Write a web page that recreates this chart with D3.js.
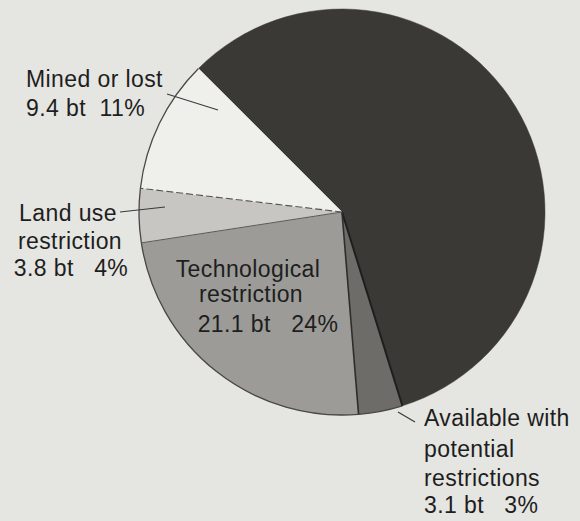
<!DOCTYPE html>
<html>
<head>
<meta charset="utf-8">
<script src="https://cdn.jsdelivr.net/npm/d3@7/dist/d3.min.js"></script>
<style>
  html, body { margin: 0; padding: 0; background: #e5e5e1; }
  svg { display: block; }
  text { font-family: "Liberation Sans", Arial, Helvetica, sans-serif; fill: #1e1e1e; }
</style>
</head>
<body>
<svg id="chart" width="580" height="521"></svg>
<script>
// ---- data (clockwise from the upper-left) ----
const categories = ["Remaining reserves", "Available with potential restrictions", "Technological restriction", "Land use restriction", "Mined or lost"];
const valuesBt = [51.0, 3.1, 21.1, 3.8, 9.4];
const percents = [null, 3, 24, 4, 11];
const fills = ["#3b3936", "#6e6c69", "#9c9b97", "#c7c6c2", "#efefec"];

const svg = d3.select("#chart");
const cx = 342, cy = 212, R = 203;
const g = svg.append("g").attr("transform", `translate(${cx},${cy})`);

const data = categories.map((c, i) => ({ name: c, value: valuesBt[i], pct: percents[i], fill: fills[i] }));
const pie = d3.pie().value(d => d.value).sort(null)
  .startAngle(-Math.PI / 4).endAngle(2 * Math.PI - Math.PI / 4);
const arcs = pie(data);
const arc = d3.arc().innerRadius(0).outerRadius(R);

g.selectAll("path.slice").data(arcs).enter().append("path")
  .attr("class", "slice")
  .attr("d", arc)
  .attr("fill", d => d.data.fill)
  .attr("stroke", d => d.data.fill)
  .attr("stroke-width", 0.5);

// outer outline over the lighter slices
arcs.slice(1).forEach(a => {
  g.append("path")
    .attr("d", d3.arc()({ innerRadius: R, outerRadius: R, startAngle: a.startAngle, endAngle: a.endAngle }))
    .attr("fill", "none").attr("stroke", "#4a4846").attr("stroke-width", 1.3);
});

// radial boundaries
function radial(angle, style) {
  const x = R * Math.sin(angle), y = -R * Math.cos(angle);
  const l = g.append("line").attr("x1", 0).attr("y1", 0).attr("x2", x).attr("y2", y)
    .attr("stroke", style.color).attr("stroke-width", style.w);
  if (style.dash) l.attr("stroke-dasharray", style.dash);
}
radial(arcs[1].startAngle, { color: "#1f1e1d", w: 2 });        // available / dark
radial(arcs[2].startAngle, { color: "#2e2d2b", w: 1.6 });      // tech / available
radial(arcs[3].startAngle, { color: "#5a5956", w: 1 });        // land / tech
radial(arcs[4].startAngle, { color: "#55534f", w: 1.1, dash: "7,3" }); // mined / land

// leader lines
const leaders = [
  [167, 94, 218, 110],
  [120, 212, 165, 207],
  [398, 412, 415, 422]
];
svg.selectAll("line.leader").data(leaders).enter().append("line")
  .attr("class", "leader")
  .attr("x1", d => d[0]).attr("y1", d => d[1]).attr("x2", d => d[2]).attr("y2", d => d[3])
  .attr("stroke", "#3a3a3a").attr("stroke-width", 1.2);

// labels
const fs = 23;
function label(lines) {
  lines.forEach(l => {
    svg.append("text").attr("x", l[0]).attr("y", l[1])
      .attr("font-size", fs).attr("letter-spacing", 0.4)
      .attr("text-anchor", l[3] || "start")
      .text(l[2]);
  });
}
const txt = i => `${valuesBt[i]} bt`;
label([
  [26, 87, "Mined or lost"],
  [26, 116, `${txt(4)}\u00a0\u00a0${percents[4]}%`]
]);
label([
  [68, 221, "Land use", "middle"],
  [70, 249, "restriction", "middle"],
  [71, 276, `${txt(3)}\u00a0\u00a0\u00a0${percents[3]}%`, "middle"]
]);
label([
  [248, 277, "Technological", "middle"],
  [251, 302, "restriction", "middle"],
  [268, 332, `${txt(2)}\u00a0\u00a0\u00a0${percents[2]}%`, "middle"]
]);
label([
  [424, 426, "Available with"],
  [424, 457, "potential"],
  [424, 486, "restrictions"],
  [424, 513, `${txt(1)}\u00a0\u00a0\u00a0${percents[1]}%`]
]);
</script>
</body>
</html>
